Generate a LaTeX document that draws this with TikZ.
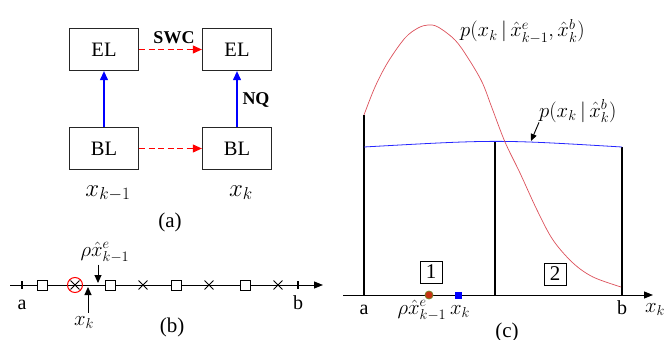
\documentclass[tikz,border=0pt]{standalone}
\usepackage{fontspec}
\setmainfont{Liberation Serif}
\usetikzlibrary{arrows.meta,shapes.misc}
\definecolor{curvered}{RGB}{220,80,90}
\definecolor{dotred}{RGB}{200,50,20}
\definecolor{dotrim}{RGB}{120,130,40}
\begin{document}
\begin{tikzpicture}[x=1pt,y=-1pt,
  font=\fontsize{20}{23}\selectfont,
  box/.style={draw=black!85, line width=1.3pt, minimum width=69pt, minimum height=42pt, inner sep=0pt, font=\fontsize{20.5}{23}\selectfont},
  redarr/.style={red, line width=1pt, dash pattern=on 6pt off 3.5pt, -{Triangle[length=9pt,width=8pt]}},
  bluearr/.style={blue, line width=1.1pt, -{Triangle[length=9pt,width=8pt]}},
  lbl/.style={inner sep=0pt},
  captxt/.style={inner sep=0pt, font=\fontsize{21}{24}\selectfont},
  bigx/.style={inner sep=0pt, font=\fontsize{24}{27}\selectfont},
  sq/.style={draw, line width=0.9pt, fill=white, minimum size=10pt, inner sep=0pt},
  xmark/.style={cross out, draw, line width=0.9pt, minimum size=8pt, inner sep=0pt},
  axisline/.style={line width=1pt, -{Triangle[length=9pt,width=7pt]}},
  tickline/.style={line width=1.8pt},
  vline/.style={line width=1.4pt},
  ptr/.style={line width=1pt, -{Triangle[length=8pt,width=7pt]}},
  numbox/.style={draw, line width=0.9pt, minimum size=22pt, inner sep=0pt, font=\fontsize{21}{24}\selectfont},
]
\useasboundingbox (0,0) rectangle (665,340);

% ---------------- panel (a)
\node[box] (EL1) at (104,49.5) {EL};
\node[box] (EL2) at (237,49.5) {EL};
\node[box] (BL1) at (104,148.5) {BL};
\node[box] (BL2) at (237,148.5) {BL};
\draw[redarr] (EL1) -- (EL2);
\draw[redarr] (BL1) -- (BL2);
\draw[bluearr] (BL1) -- (EL1);
\draw[bluearr] (BL2) -- (EL2);
\node[lbl, font=\fontsize{18}{20}\selectfont\bfseries] (swc) at (174,38) {SWC};
\node[lbl, font=\fontsize{18}{20}\selectfont\bfseries] (nq) at (256,100) {NQ};
\node[bigx, anchor=base] (xa1) at (108,196) {$x_{k-1}$};
\node[bigx, anchor=base] (xa2) at (241,196) {$x_k$};
\node[captxt] (capa) at (170,222) {(a)};

% ---------------- panel (b)
\coordinate (bl) at (10,285);
\coordinate (br) at (323,285);
\draw[axisline] (bl) -- (br);
\draw[tickline] (22,281) -- (22,289);
\draw[tickline] (298,281) -- (298,289);
\node[sq] (s1) at (42,285) {};
\node[sq] (s2) at (110,285) {};
\node[sq] (s3) at (176,285) {};
\node[sq] (s4) at (245,285) {};
\node[xmark] (c1) at (75,285) {};
\node[draw=red, circle, line width=1pt, minimum size=15pt, inner sep=0pt] (rc) at (75,285) {};
\node[xmark] (c2) at (143,285) {};
\node[xmark] (c3) at (209,285) {};
\node[xmark] (c4) at (278,285) {};
\node[lbl, anchor=base] (rho) at (105,256) {$\rho\hat{x}^{e}_{k-1}$};
\coordinate (rt) at (98,283);
\draw[ptr] (rt |- rho.south) ++(0,2) -- (rt);
\node[lbl, anchor=base] (xkb) at (84,325) {$x_k$};
\coordinate (xt) at (88,287);
\draw[ptr] (xt |- xkb.north) ++(0,-3) -- (xt);
\node[lbl, anchor=base] (la) at (22,309) {a};
\node[lbl, anchor=base] (lb) at (298,309) {b};
\node[captxt] (capb) at (172,327) {(b)};

% ---------------- panel (c)
\coordinate (O) at (343,295);
\coordinate (E) at (653,295);
\draw[axisline] (O) -- (E);
\draw[vline] (364,295) -- (364,115);
\draw[vline] (495,295) -- (495,142);
\draw[vline] (622,295) -- (622,147);
\draw[blue!85, line width=0.8pt] (364,147) .. controls (497,139.5) .. (622,147);
\draw[curvered, line width=0.7pt] plot[smooth, tension=0.55] coordinates {
  (364,115) (375,87) (388,62) (405,38) (418,28) (428,25) (438,27) (455,40)
  (468,58) (482,82) (492,108) (505,142) (520,173) (537,210) (553,240) (573,263) (593,277) (621,287)};
\node[lbl, anchor=base west] (pe) at (460,37) {$p(x_k\,|\,\hat{x}^{e}_{k-1},\hat{x}^{b}_{k})$};
\node[lbl, anchor=base west] (pb) at (539,117) {$p(x_k\,|\,\hat{x}^{b}_{k})$};
\coordinate (bp) at (531,141);
\draw[line width=0.9pt, -{Triangle[length=7pt,width=6pt]}] (pb.south west) -- (bp);
\node[numbox] (n1) at (431,272) {1};
\node[numbox] (n2) at (555,274) {2};
\node[circle, fill=dotred, draw=dotrim, line width=0.8pt, minimum size=8pt, inner sep=0pt] (rd) at (429,295) {};
\node[fill=blue, minimum size=7pt, inner sep=0pt] (bs) at (458,295) {};
\node[lbl, anchor=base] (ca) at (364,314) {a};
\node[lbl, anchor=base] (crho) at (422,314) {$\rho\hat{x}^{e}_{k-1}$};
\node[lbl, anchor=base] (cxk) at (460,314) {$x_k$};
\node[lbl, anchor=base] (cb) at (622,314) {b};
\node[lbl, anchor=base] (cxa) at (655,312) {$x_k$};
\node[captxt] (capc) at (507,332) {(c)};
\end{tikzpicture}
\end{document}
